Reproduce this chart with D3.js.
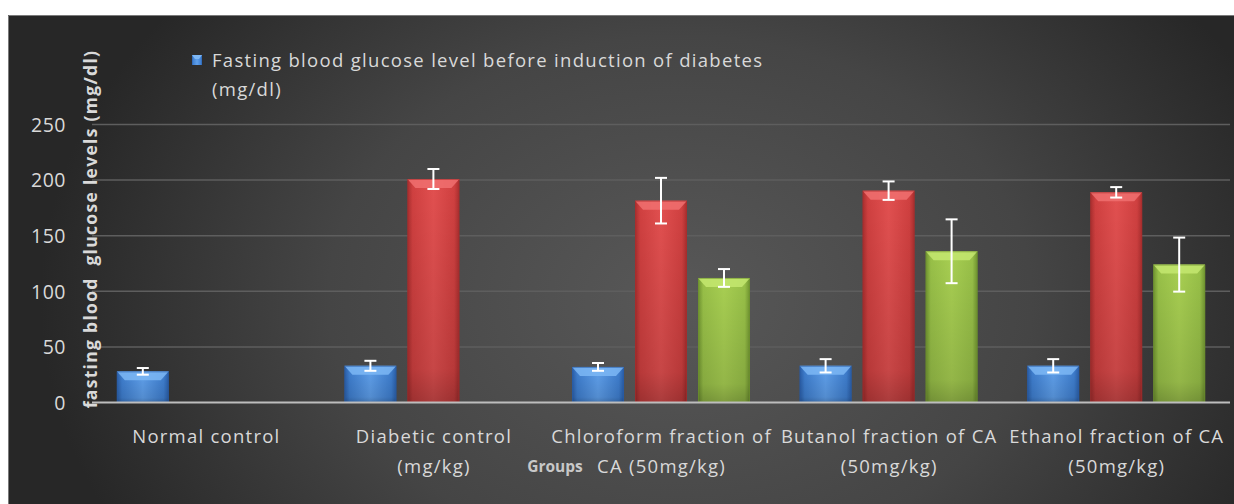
<!DOCTYPE html>
<html><head><meta charset="utf-8">
<script src="https://cdn.jsdelivr.net/npm/d3@7"></script>
<style>html,body{margin:0;padding:0;background:#fff;}svg{display:block;}</style>
</head><body>
<svg id="c" width="1234" height="504"></svg>
<script>
const categories = [["Normal control"], ["Diabetic control", "(mg/kg)"], ["Chloroform fraction of", "CA (50mg/kg)"], ["Butanol fraction of CA", "(50mg/kg)"], ["Ethanol fraction of CA", "(50mg/kg)"]];
const seriesNames = ["Fasting blood glucose level before induction of diabetes (mg/dl)", "series 2", "series 3"];
const beforeValues = [28, 33, 32, 33, 33];
const beforeErrors = [3, 4.5, 3.5, 6, 6];
const afterValues = [null, 201, 181.5, 190.5, 189];
const afterErrors = [null, 9, 20.5, 8.3, 4.7];
const treatValues = [null, null, 112, 136, 124];
const treatErrors = [null, null, 8, 28.7, 24.3];
const yTicks = [0, 50, 100, 150, 200, 250];

const svg = d3.select("#c");
const defs = svg.append("defs");
const W = 1234, H = 504;
const font = "'Open Sans', sans-serif";

// background
const bg = defs.append("radialGradient").attr("id","bg").attr("gradientUnits","userSpaceOnUse")
  .attr("cx",680).attr("cy",300).attr("r",640).attr("gradientTransform","translate(680,300) scale(1,0.75) translate(-680,-300)");
bg.append("stop").attr("offset","0%").attr("stop-color","#585858");
bg.append("stop").attr("offset","55%").attr("stop-color","#454545");
bg.append("stop").attr("offset","100%").attr("stop-color","#272727");
svg.append("rect").attr("x",8).attr("y",15).attr("width",W-8).attr("height",H-15).attr("fill","url(#bg)");
svg.append("path").attr("d",`M8.5,${H}V15.5H${W}`).attr("fill","none").attr("stroke","#7a7a7a").attr("stroke-width",1);

const colors = [
  {id:"blue", light:"#5fa0ec", mid:"#3f7fd0", dark:"#2a5ea8", top:"#7db7f5"},
  {id:"red", light:"#e25050", mid:"#d04040", dark:"#a82e2e", top:"#f07070"},
  {id:"green", light:"#a8cf52", mid:"#98c048", dark:"#6f9330", top:"#c4e870"}
];
colors.forEach(c=>{
  const g = defs.append("linearGradient").attr("id","g_"+c.id).attr("x1",0).attr("x2",1).attr("y1",0).attr("y2",0);
  g.append("stop").attr("offset","0%").attr("stop-color",c.dark);
  g.append("stop").attr("offset","10%").attr("stop-color",c.mid);
  g.append("stop").attr("offset","50%").attr("stop-color",c.light);
  g.append("stop").attr("offset","90%").attr("stop-color",c.mid);
  g.append("stop").attr("offset","100%").attr("stop-color",c.dark);
  const v = defs.append("linearGradient").attr("id","v_"+c.id).attr("x1",0).attr("x2",0).attr("y1",0).attr("y2",1);
  v.append("stop").attr("offset","0%").attr("stop-color","#000").attr("stop-opacity",0);
  v.append("stop").attr("offset","85%").attr("stop-color","#000").attr("stop-opacity",0.12);
  v.append("stop").attr("offset","100%").attr("stop-color","#000").attr("stop-opacity",0.25);
});

const x0 = d3.scaleBand().domain(d3.range(categories.length)).range([92,1230]).paddingInner(0).paddingOuter(0);
const x1 = d3.scaleBand().domain([0,1,2]).range([0,x0.bandwidth()]).paddingInner(0.175).paddingOuter(0.394);
const y = d3.scaleLinear().domain([0,250]).range([402.5,124.5]);

// gridlines
svg.append("g").selectAll("line").data(yTicks.filter(t=>t>0)).join("line")
  .attr("x1",92).attr("x2",1230).attr("y1",d=>y(d)).attr("y2",d=>y(d))
  .attr("stroke","#5e5e5e").attr("stroke-width",1.5);

// y axis labels
const yAxis = d3.axisLeft(y).tickValues(yTicks).tickSize(0).tickPadding(0);
const ya = svg.append("g").attr("transform","translate(66,0)").call(yAxis);
ya.select(".domain").remove();
ya.selectAll("text").attr("fill","#d9d9d9").attr("font-family",font).attr("font-size",19.5).attr("letter-spacing",0.5).attr("dy","0.35em");

// y title
svg.append("text").attr("transform",`translate(97,229) rotate(-90)`).attr("text-anchor","middle")
  .attr("fill","#d9d9d9").attr("font-family",font).attr("font-weight","bold").attr("font-size",17.5)
  .attr("letter-spacing",1.3)
  .style("white-space","pre")
  .text("fasting blood  glucose levels (mg/dl)");

// bars
const series = [
  {vals:beforeValues, errs:beforeErrors},
  {vals:afterValues, errs:afterErrors},
  {vals:treatValues, errs:treatErrors}
];
const bars = [];
series.forEach((s,si)=>s.vals.forEach((v,ci)=>{ if(v!=null) bars.push({si,ci,v,e:s.errs[ci]}); }));

const bg2 = svg.append("g");
bars.forEach(b=>{
  const c = colors[b.si];
  const bx = x0(b.ci)+x1(b.si), bw = x1.bandwidth();
  const top = y(b.v), bot = y(0);
  const g = bg2.append("g");
  g.append("rect").attr("x",bx).attr("y",top).attr("width",bw).attr("height",bot-top).attr("fill",`url(#g_${c.id})`);
  g.append("rect").attr("x",bx).attr("y",top).attr("width",bw).attr("height",bot-top).attr("fill",`url(#v_${c.id})`);
  const bev = Math.min(9, (bot-top)/2);
  g.append("path").attr("d",`M${bx},${top}H${bx+bw}L${bx+bw-8},${top+bev}H${bx+8}Z`).attr("fill",c.top).attr("opacity",0.85);
  g.append("rect").attr("x",bx+0.5).attr("y",top+0.5).attr("width",bw-1).attr("height",bot-top-1)
    .attr("fill","none").attr("stroke",c.dark).attr("stroke-width",1).attr("opacity",0.6);
});

// error bars
const eg = svg.append("g").attr("stroke","#ffffff").attr("stroke-width",2);
bars.forEach(b=>{
  const cx = x0(b.ci)+x1(b.si)+x1.bandwidth()/2;
  const y1 = y(b.v+b.e), y2 = y(b.v-b.e);
  eg.append("line").attr("x1",cx).attr("x2",cx).attr("y1",y1).attr("y2",y2);
  eg.append("line").attr("x1",cx-6).attr("x2",cx+6).attr("y1",y1).attr("y2",y1);
  eg.append("line").attr("x1",cx-6).attr("x2",cx+6).attr("y1",y2).attr("y2",y2);
});

// baseline
svg.append("line").attr("x1",92).attr("x2",1230).attr("y1",y(0)).attr("y2",y(0)).attr("stroke","#bdbdbd").attr("stroke-width",2);

// category labels
const xl = svg.append("g");
categories.forEach((lines,i)=>{
  const cx = x0(i)+x0.bandwidth()/2 + 0.6;
  const t = xl.append("text").attr("x",cx).attr("y",443).attr("text-anchor","middle")
    .attr("fill","#d9d9d9").attr("font-family",font).attr("font-size",18.5).attr("letter-spacing",1.25);
  lines.forEach((l,k)=>t.append("tspan").attr("x",cx).attr("dy",k?30:0).text(l));
});

// x title
svg.append("text").attr("x",555).attr("y",472).attr("text-anchor","middle").attr("fill","#c8c8c8")
  .attr("font-family",font).attr("font-weight","bold").attr("font-size",15.5).text("Groups");

// legend (first series only)
const lg = svg.append("g");
lg.append("rect").attr("x",192).attr("y",55).attr("width",10).attr("height",10).attr("fill",`url(#g_blue)`);
lg.append("path").attr("d","M192,55H202L199,59H195Z").attr("fill","#7db7f5");
const lt = lg.append("text").attr("x",212).attr("y",67).attr("fill","#d9d9d9").attr("font-family",font).attr("font-size",18.5).attr("letter-spacing",1.3);
lt.append("tspan").attr("x",212).attr("dy",0).text("Fasting blood glucose level before induction of diabetes");
lt.append("tspan").attr("x",212).attr("dy",29).text("(mg/dl)");
</script>
</body></html>
